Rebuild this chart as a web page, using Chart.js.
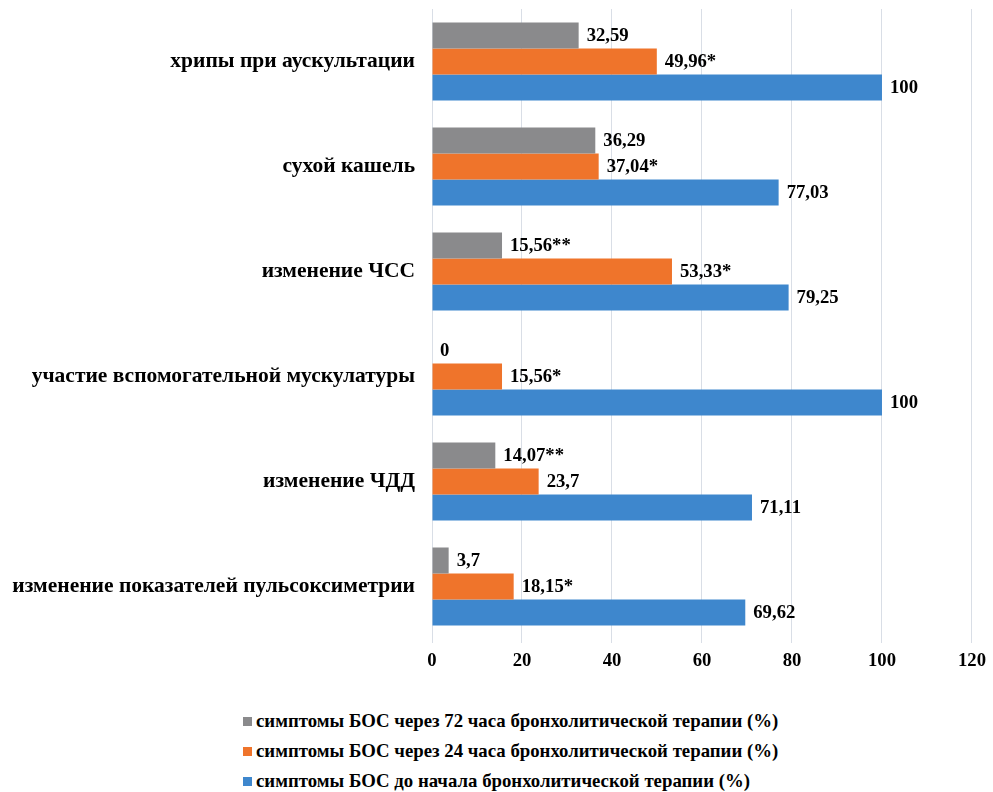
<!DOCTYPE html>
<html>
<head>
<meta charset="utf-8">
<script src="https://cdn.jsdelivr.net/npm/chart.js@4.4.1/dist/chart.umd.min.js"></script>
<style>
  body { margin: 0; background: #fff; }
  #wrap { position: relative; width: 993px; height: 690px; }
  #legend { position: absolute; left: 243px; top: 706px; font: bold 18.8px "Liberation Serif", serif; color: #000; }
  .item { height: 30px; display: flex; align-items: center; }
  .box { width: 9px; height: 9px; margin-right: 4px; }
</style>
</head>
<body>
<div id="wrap"><canvas id="myChart"></canvas></div>
<div id="legend"></div>
<script>
"use strict";

const categories = [
  'хрипы при аускультации',
  'сухой кашель',
  'изменение ЧСС',
  'участие вспомогательной мускулатуры',
  'изменение ЧДД',
  'изменение показателей пульсоксиметрии'
];

const after72 = [32.59, 36.29, 15.56, 0, 14.07, 3.7];
const after24 = [49.96, 37.04, 53.33, 15.56, 23.7, 18.15];
const before = [100, 77.03, 79.25, 100, 71.11, 69.62];

const labels72 = ['32,59', '36,29', '15,56**', '0', '14,07**', '3,7'];
const labels24 = ['49,96*', '37,04*', '53,33*', '15,56*', '23,7', '18,15*'];
const labelsBefore = ['100', '77,03', '79,25', '100', '71,11', '69,62'];

const seriesNames = [
  'симптомы БОС через 72 часа бронхолитической терапии (%)',
  'симптомы БОС через 24 часа бронхолитической терапии (%)',
  'симптомы БОС до начала бронхолитической терапии (%)'
];

const xMin = 0, xMax = 120, xStep = 20;

const ctx = document.getElementById('myChart');

// value labels next to each bar
const valueLabels = {
  id: 'valueLabels',
  afterDatasetsDraw(chart) {
    const c = chart.ctx;
    c.save();
    c.font = 'bold 18.7px "Liberation Serif"';
    c.fillStyle = '#000';
    c.textAlign = 'left';
    c.textBaseline = 'middle';
    chart.data.datasets.forEach((ds, i) => {
      chart.getDatasetMeta(i).data.forEach((bar, j) => {
        c.fillText(ds.valueLabels[j], bar.x + 8, bar.y + 1);
      });
    });
    c.restore();
  }
};

const chart = new Chart(ctx, {
  type: 'bar',
  data: {
    labels: categories,
    datasets: [
      { label: seriesNames[0], data: after72, valueLabels: labels72, backgroundColor: '#8A8A8C' },
      { label: seriesNames[1], data: after24, valueLabels: labels24, backgroundColor: '#EF742B' },
      { label: seriesNames[2], data: before, valueLabels: labelsBefore, backgroundColor: '#3E87CD' }
    ]
  },
  options: {
    indexAxis: 'y',
    responsive: true,
    maintainAspectRatio: false,
    animation: false,
    categoryPercentage: 0.743,
    barPercentage: 1,
    layout: { padding: { top: 0, right: 16 } },
    plugins: {
      legend: { display: false },
      tooltip: { enabled: false }
    },
    scales: {
      x: {
        min: xMin,
        max: xMax,
        ticks: {
          stepSize: xStep,
          color: '#000',
          padding: 7,
          font: { family: 'Liberation Serif', weight: 'bold', size: 18.7 }
        },
        grid: { color: '#D9DEE6', tickLength: 4 },
        border: { display: false },
        afterFit(scale) { scale.height = 51; }
      },
      y: {
        ticks: {
          color: '#000',
          padding: 0,
          font: { family: 'Liberation Serif', weight: 'bold', size: 21.5 }
        },
        grid: { display: false, drawTicks: true, tickLength: 17 },
        border: { display: false },
        afterFit(scale) {
          scale.width = 432;
          scale.paddingTop = 9;
          scale.paddingBottom = 0;
        }
      }
    }
  },
  plugins: [valueLabels]
});

// legend below the chart, one series per line
const legendBox = document.getElementById('legend');
chart.data.datasets.forEach(ds => {
  const item = document.createElement('div');
  item.className = 'item';
  const box = document.createElement('span');
  box.className = 'box';
  box.style.background = ds.backgroundColor;
  item.appendChild(box);
  item.appendChild(document.createTextNode(ds.label));
  legendBox.appendChild(item);
});
</script>
</body>
</html>
